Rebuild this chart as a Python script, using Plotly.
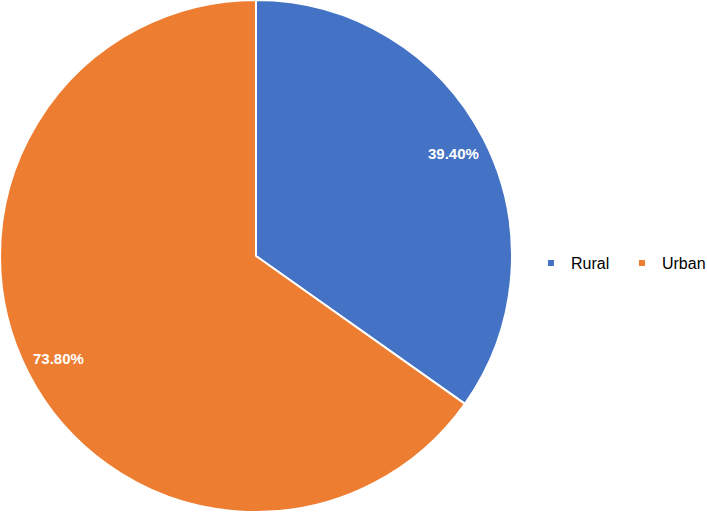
import math
import plotly.graph_objects as go

categorias = ["Rural", "Urban"]
valores = [39.40, 73.80]
cores = ["#4472C4", "#ED7D31"]

W, H = 707, 512
R = 256  # raio da pizza em pixels
FONTE = "Liberation Sans, Arial, Helvetica, sans-serif"

fig = go.Figure()

fig.add_trace(go.Pie(
    labels=categorias,
    values=valores,
    sort=False,
    direction="clockwise",
    rotation=0,
    marker=dict(colors=cores, line=dict(color="white", width=2)),
    textinfo="none",
    domain=dict(x=[0, 2 * R / W], y=[0, 1]),
    showlegend=False,
    hoverinfo="label+value",
))

# entradas de legenda com marcador pequeno
for nome, cor in zip(categorias, cores):
    fig.add_trace(go.Scatter(
        x=[None], y=[None], mode="markers", name=nome,
        marker=dict(symbol="square", size=6, color=cor),
    ))

# rótulos perto da borda, no ângulo médio de cada fatia
total = sum(valores)
acum = 0
for v in valores:
    meio = (acum + v / 2) / total * 2 * math.pi
    acum += v
    r = 0.87 * R
    fig.add_annotation(
        x=(R + r * math.sin(meio)) / W,
        y=(H / 2 + r * math.cos(meio)) / H,
        xref="paper", yref="paper",
        xanchor="center", yanchor="middle",
        text=f"<b>{v:.2f}%</b>",
        showarrow=False,
        font=dict(color="white", size=15, family=FONTE),
    )

fig.update_layout(
    width=W,
    height=H,
    margin=dict(l=0, r=0, t=0, b=0, autoexpand=False),
    paper_bgcolor="white",
    plot_bgcolor="white",
    font=dict(family=FONTE, size=16, color="#000000"),
    xaxis=dict(visible=False),
    yaxis=dict(visible=False),
    legend=dict(
        orientation="h",
        x=0.751,
        y=0.486,
        xanchor="left",
        yanchor="middle",
        font=dict(size=16),
        itemwidth=30,
        entrywidth=46,
    ),
)

fig.write_html(
    "out.html",
    config={"displayModeBar": False},
    post_script="document.body.style.margin='0';",
)
